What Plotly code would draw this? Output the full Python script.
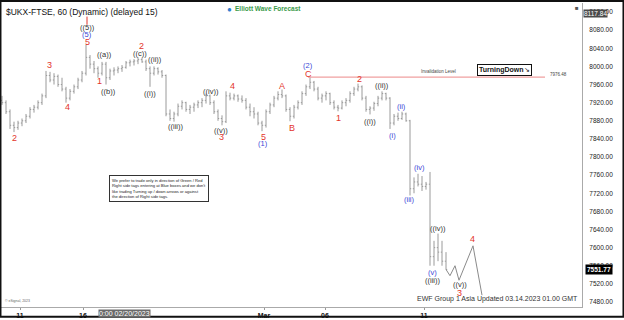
import plotly.graph_objects as go

# ---------------- data (hourly bars) ----------------
bar_open = [7925,7920,7900,7870,7865,7875,7880,7890,7905,7910,7920,7935,7980,7970,7978,7960,7950,7930,7945,7955,
            7970,7985,8020,8005,7995,7985,8005,7975,7990,7992,7995,7998,8008,8010,8012,8015,8010,7995,7985,7995,
            7988,7980,7895,7885,7895,7912,7920,7905,7910,7915,7920,7925,7935,7920,7900,7885,7878,7935,7930,7935,
            7928,7925,7910,7900,7895,7875,7870,7900,7915,7930,7938,7935,7905,7890,7910,7920,7940,7955,7965,7950,
            7930,7935,7940,7920,7910,7908,7920,7925,7940,7950,7955,7930,7905,7908,7918,7930,7940,7930,7875,7890,
            7885,7895,7880,7730,7745,7740,7735,7740,7580,7600,7590,7570]
bar_high = [7935,7925,7905,7878,7880,7885,7895,7910,7915,7925,7940,7990,7988,7985,7982,7975,7955,7950,7960,7975,
            7990,8048,8025,8012,8000,8010,8010,7995,7998,8000,8003,8012,8015,8016,8020,8019,8015,8000,8000,7998,
            7992,7982,7905,7900,7918,7925,7922,7915,7920,7925,7930,7940,7938,7925,7905,7892,7945,7942,7940,7938,
            7936,7930,7918,7910,7900,7880,7905,7920,7935,7945,7949,7938,7910,7915,7925,7945,7960,7976,7968,7955,
            7940,7945,7942,7925,7915,7925,7930,7945,7955,7962,7958,7935,7912,7922,7935,7945,7942,7932,7895,7898,
            7900,7898,7882,7755,7763,7758,7745,7767,7615,7631,7615,7590]
bar_low = [7915,7895,7862,7855,7860,7868,7875,7885,7898,7905,7915,7930,7965,7960,7955,7945,7920,7925,7940,7950,
           7965,7980,7995,7985,7975,7980,7960,7970,7980,7985,7988,7995,8000,8002,8005,8008,7990,7955,7980,7982,
           7975,7890,7880,7878,7890,7905,7900,7895,7900,7908,7910,7918,7915,7895,7880,7870,7875,7925,7925,7922,
           7920,7905,7890,7885,7870,7857,7865,7895,7910,7925,7930,7900,7879,7885,7905,7915,7935,7950,7945,7925,
           7920,7925,7915,7905,7901,7905,7912,7920,7935,7945,7925,7900,7894,7902,7912,7925,7925,7862,7870,7880,
           7882,7878,7715,7720,7735,7725,7728,7560,7560,7570,7560,7552]
bar_close = [7920,7900,7870,7865,7875,7880,7890,7905,7910,7920,7935,7980,7970,7978,7960,7950,7930,7945,7955,7970,
             7985,8020,8005,7995,7985,8005,7975,7990,7992,7995,7998,8008,8010,8012,8015,8010,7995,7985,7995,7988,
             7980,7895,7885,7895,7912,7920,7905,7910,7915,7920,7925,7935,7920,7900,7885,7878,7935,7930,7935,7928,
             7925,7910,7900,7895,7875,7870,7900,7915,7930,7938,7935,7905,7890,7910,7920,7940,7955,7965,7950,7930,
             7935,7940,7920,7910,7908,7920,7925,7940,7950,7955,7930,7905,7908,7918,7930,7940,7930,7875,7890,7885,
             7895,7880,7730,7745,7740,7735,7740,7580,7600,7590,7570,7551.77]
bar_x = list(range(len(bar_close)))

# projected path after last bar
proj_x = [111, 112, 113.25, 114.25, 117.75, 120]
proj_y = [7551.77, 7538, 7560, 7528, 7604, 7495]

invalidation_level = 7976.48
invalidation_x = [76.5, 135.75]
range_high = 8117.84
last_price = 7551.77

tick_pos = [4.5, 20.25, 65.5, 80.75, 105.5]
tick_text = ["11", "16", "Mar", "06", "11"]

# wave labels: (x, price, text, colour-key)
wave_labels = [
    (3, 7842, "2", "r"), (11.75, 8004, "3", "r"), (16.25, 7910, "4", "r"),
    (21.25, 8085, "((5))", "k"), (21.25, 8070, "(5)", "b"), (21.25, 8055, "5", "r"),
    (25.5, 8026, "((a))", "k"), (24.25, 7967, "1", "r"), (26.5, 7945, "((b))", "k"),
    (34.75, 8046, "2", "r"), (34.5, 8028, "((c))", "k"), (38.25, 8015, "((ii))", "k"),
    (37, 7940, "((i))", "k"), (43.25, 7868, "((iii))", "k"), (52.25, 7945, "((iv))", "k"),
    (54.75, 7859, "((v))", "k"), (54.75, 7844, "3", "r"), (57.5, 7956, "4", "r"),
    (65.25, 7844, "5", "r"), (65.25, 7829, "(1)", "b"), (70, 7956, "A", "r"),
    (72.5, 7864, "B", "r"), (76.5, 7984, "C", "r"), (76.5, 8002, "(2)", "b"),
    (84, 7886, "1", "r"), (89.25, 7973, "2", "r"), (92, 7879, "((i))", "k"),
    (95, 7958, "((ii))", "k"), (97.5, 7848, "(i)", "b"), (99.75, 7912, "(ii)", "b"),
    (101.75, 7706, "(iii)", "b"), (104.25, 7776, "(iv)", "b"), (109, 7642, "((iv))", "k"),
    (107.5, 7546, "(v)", "b"), (107.5, 7528, "((iii))", "k"), (114.5, 7518, "((v))", "k"),
    (114.25, 7500, "3", "r"), (117.5, 7620, "4", "r"),
]

# ---------------- figure ----------------
RED, BLUE, DARK, BARC = "#e3342b", "#3c46d6", "#333333", "#9a9a9a"
colmap = {"r": RED, "b": BLUE, "k": DARK}
FONT = "Liberation Sans, Arial, sans-serif"

fig = go.Figure()
fig.add_trace(go.Ohlc(x=bar_x, open=bar_open, high=bar_high, low=bar_low, close=bar_close,
                      increasing=dict(line=dict(color=BARC, width=1)),
                      decreasing=dict(line=dict(color=BARC, width=1)),
                      tickwidth=0.3, hoverinfo="skip", showlegend=False))
fig.add_trace(go.Scatter(x=proj_x, y=proj_y, mode="lines", line=dict(color="#8a8a8a", width=1),
                         hoverinfo="skip", showlegend=False))
fig.add_trace(go.Scatter(x=invalidation_x, y=[invalidation_level] * 2, mode="lines",
                         line=dict(color="#f0a0a0", width=1.2), hoverinfo="skip", showlegend=False))
fig.add_trace(go.Scatter(x=[21.25, 21.25], y=[8092, 8110], mode="lines",
                         line=dict(color=RED, width=1), hoverinfo="skip", showlegend=False))

ann = []
for x, y, t, c in wave_labels:
    size = 9 if len(t) <= 1 else 7.5
    ann.append(dict(x=x, y=y, xref="x", yref="y", text=t, showarrow=False,
                    font=dict(size=size, color=colmap[c], family=FONT)))

ann += [
    dict(x=0.006, y=0.995, xref="paper", yref="paper", xanchor="left", yanchor="top",
         text="$UKX-FTSE, 60 (Dynamic) (delayed 15)", showarrow=False,
         font=dict(size=8.5, color="#111", family=FONT)),
    dict(x=0.399, y=1.0, xref="paper", yref="paper", xanchor="left", yanchor="top",
         text="<b>Elliott Wave Forecast</b>", showarrow=False,
         font=dict(size=6.5, color="#3a9a4a", family=FONT)),
    dict(x=0.393, y=1.0, xref="paper", yref="paper", xanchor="center", yanchor="top",
         text="●", showarrow=False, font=dict(size=8, color="#2f7fd0", family=FONT)),
    dict(x=109, y=7989, xref="x", yref="y", text="Invalidation Level",
         showarrow=False, font=dict(size=4.5, color="#444", family=FONT)),
    dict(x=125.6, y=7993, xref="x", yref="y", text="<b>TurningDown</b>↘",
         showarrow=False, bordercolor="#111", borderwidth=1, borderpad=1, bgcolor="white",
         font=dict(size=7, color="#111", family=FONT)),
    dict(x=139, y=7982, xref="x", yref="y", text="7976.48", showarrow=False,
         font=dict(size=4.5, color="#444", family=FONT)),
    dict(x=39.25, y=7730, xref="x", yref="y",
         text="We prefer to trade only in direction of Green / Red<br>Right side tags entering at Blue boxes and we don't<br>"
              "like trading Turning up / down arrows or against<br>the direction of Right side tags.",
         align="left", showarrow=False, bordercolor="#333", borderwidth=1, borderpad=2, bgcolor="white",
         font=dict(size=4.1, color="#222", family=FONT)),
    dict(x=0.997, y=0.005, xref="paper", yref="paper", xanchor="right", yanchor="bottom",
         text="EWF Group 1 Asia Updated 03.14.2023 01.00 GMT", showarrow=False,
         font=dict(size=7, color="#333", family=FONT)),
    dict(x=0.003, y=0.005, xref="paper", yref="paper", xanchor="left", yanchor="bottom",
         text="© eSignal, 2023", showarrow=False, font=dict(size=3.5, color="#666", family=FONT)),
    dict(x=30.5, y=-0.005, xref="x", yref="paper", yanchor="top", text="0:00 02/20/2023",
         showarrow=False, bgcolor="#6a6a6a", borderpad=0,
         font=dict(size=7, color="white", family=FONT)),
    dict(x=1.002, y=range_high, xref="paper", yref="y", xanchor="left", text="8117.84",
         showarrow=False, bgcolor="#4a4a4a", borderpad=0, font=dict(size=6.5, color="white", family=FONT)),
    dict(x=1.006, y=last_price, xref="paper", yref="y", xanchor="left", text="<b>7551.77</b>",
         showarrow=False, bgcolor="#000", borderpad=1, font=dict(size=6.5, color="white", family=FONT)),
    dict(x=0.999, y=1.0, xref="paper", yref="paper", xanchor="right", yanchor="top", text="■",
         showarrow=False, font=dict(size=6, color="#555", family=FONT)),
]

fig.update_layout(
    width=624, height=320, margin=dict(l=1, r=42, t=3, b=11),
    paper_bgcolor="white", plot_bgcolor="white",
    annotations=ann, showlegend=False,
    shapes=[dict(type="rect", xref="paper", yref="paper",
                 x0=-0.0009, x1=1.0714, y0=-0.032, y1=1.0065,
                 line=dict(color="#111", width=2))],
    xaxis=dict(range=[-0.25, 145], rangeslider=dict(visible=False), showgrid=False, zeroline=False,
               tickmode="array", tickvals=tick_pos, ticktext=[f"<b>{t}</b>" for t in tick_text],
               ticks="outside", ticklen=2, tickcolor="#999", showline=True, linecolor="#aaa",
               tickfont=dict(size=7, color="#111", family=FONT)),
    yaxis=dict(range=[7468.9, 8140], side="right", dtick=40, tick0=7480, tickformat=".2f",
               showgrid=False, zeroline=False, showline=True, linecolor="#aaa", ticks="",
               ticklabelstandoff=5, tickfont=dict(size=6.5, color="#222", family=FONT)),
)

fig.write_html("out.html")
